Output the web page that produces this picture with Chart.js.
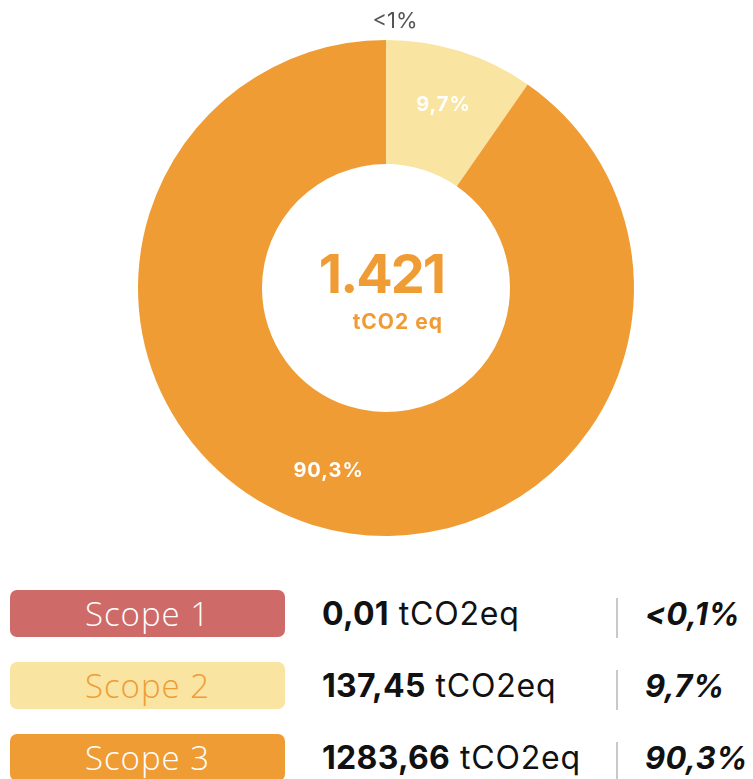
<!DOCTYPE html>
<html>
<head>
<meta charset="utf-8">
<script src="https://cdn.jsdelivr.net/npm/chart.js@4"></script>
<style>
  body { margin: 0; background: #fff; width: 753px; height: 779px; position: relative; overflow: hidden; font-family: Inter, "Open Sans", sans-serif; }
  #chart-box { position: absolute; left: 0; top: 0; width: 753px; height: 580px; }
  .row { position: absolute; left: 0; width: 753px; height: 47px; }
  .tag { position: absolute; left: 10px; top: 0; width: 275px; height: 47px; border-radius: 7px; text-align: center; line-height: 47px; font-family: "Open Sans", sans-serif; font-weight: 300; font-size: 33px; letter-spacing: 1px; }
  .amount { position: absolute; left: 322px; top: 0; line-height: 47px; font-size: 32px; letter-spacing: 0.8px; color: #111; }
  .amount b { font-weight: 700; letter-spacing: 0.3px; }
  .sep { position: absolute; left: 616px; top: 8px; width: 2px; height: 40px; background: #c8c8c8; }
  .share { position: absolute; left: 645px; top: 0; line-height: 47px; font-size: 31px; font-weight: 700; font-style: italic; letter-spacing: 0.3px; color: #111; }
</style>
</head>
<body>
<div id="chart-box"><canvas id="scope_chart"></canvas></div>
<div id="legend"></div>
<script>
const labels = ['Scope 1', 'Scope 2', 'Scope 3'];
const values = [0.01, 137.45, 1283.66];
const amountLabels = ['0,01', '137,45', '1283,66'];
const sliceLabels = ['<1%', '9,7%', '90,3%'];
const shareLabels = ['<0,1%', '9,7%', '90,3%'];
const totalLabel = '1.421';
const unitLabel = 'tCO2 eq';
const colors = ['#ce6a68', '#f9e4a2', '#ef9c35'];
const tagTextColors = ['#ffffff', '#ef9c35', '#ffffff'];

// labels on the slices + total in the hole
const sliceLabelPlugin = {
  id: 'sliceLabels',
  afterDatasetsDraw(chart) {
    const ctx = chart.ctx;
    const meta = chart.getDatasetMeta(0);
    ctx.save();
    ctx.textAlign = 'center';
    ctx.textBaseline = 'middle';
    meta.data.forEach((arc, i) => {
      const p = arc.getProps(['x', 'y', 'startAngle', 'endAngle', 'innerRadius', 'outerRadius'], true);
      const mid = (p.startAngle + p.endAngle) / 2;
      if (i === 0) {
        // tiny slice: label sits outside the ring
        const r = p.outerRadius + 19;
        ctx.fillStyle = '#555';
        ctx.font = '22px Inter, sans-serif';
        ctx.fillText(sliceLabels[i], p.x + Math.cos(mid) * r + 9, p.y + Math.sin(mid) * r);
      } else {
        const r = (p.innerRadius + p.outerRadius) / 2 + 6;
        ctx.fillStyle = '#ffffff';
        ctx.font = 'bold 20px Inter, sans-serif';
        ctx.letterSpacing = '1px';
        ctx.fillText(sliceLabels[i], p.x + Math.cos(mid) * r, p.y + Math.sin(mid) * r);
        ctx.letterSpacing = '0px';
      }
    });
    const c = meta.data[0];
    ctx.fillStyle = '#ef9c35';
    ctx.textAlign = 'right';
    ctx.textBaseline = 'alphabetic';
    ctx.font = 'bold 54px Inter, sans-serif';
    ctx.letterSpacing = '-2px';
    ctx.fillText(totalLabel, c.x + 58, c.y + 5);
    ctx.font = 'bold 21px Inter, sans-serif';
    ctx.letterSpacing = '1px';
    ctx.fillText(unitLabel, c.x + 57, c.y + 41);
    ctx.restore();
  }
};

new Chart('scope_chart', {
  type: 'doughnut',
  data: {
    labels: labels,
    datasets: [{
      data: values,
      backgroundColor: colors,
      borderWidth: 0
    }]
  },
  options: {
    responsive: true,
    maintainAspectRatio: false,
    animation: false,
    cutout: '50%',
    layout: { padding: { top: 40, bottom: 44, left: 19, right: 0 } },
    plugins: {
      legend: { display: false },
      tooltip: { enabled: false }
    }
  },
  plugins: [sliceLabelPlugin]
});

// legend rows below the chart
const legend = document.getElementById('legend');
const rowTops = [590, 662, 734];
labels.forEach((name, i) => {
  const row = document.createElement('div');
  row.className = 'row';
  row.style.top = rowTops[i] + 'px';
  row.innerHTML =
    `<div class="tag" style="background:${colors[i]};color:${tagTextColors[i]}">${name}</div>` +
    `<div class="amount"><b>${amountLabels[i]}</b> tCO2eq</div>` +
    `<div class="sep"></div>` +
    `<div class="share">${shareLabels[i].replace('<', '&lt;')}</div>`;
  legend.appendChild(row);
});
</script>
</body>
</html>
